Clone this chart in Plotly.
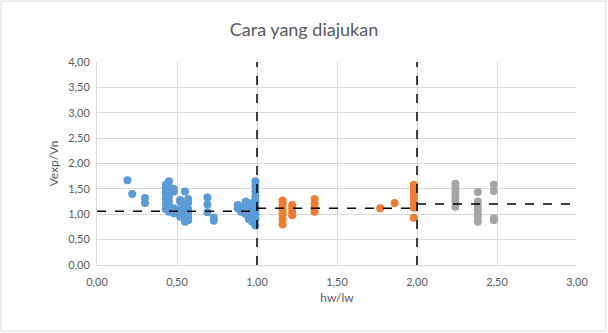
import plotly.graph_objects as go

# Group 1: hw/lw <= 1
x_low = [0.19, 0.22, 0.30, 0.30,
         0.43, 0.43, 0.43, 0.43, 0.43, 0.43, 0.43,
         0.45, 0.45, 0.45, 0.45, 0.45, 0.45, 0.45,
         0.48, 0.48, 0.48, 0.48,
         0.52, 0.52, 0.52, 0.52, 0.52,
         0.55, 0.55, 0.55, 0.55, 0.55, 0.55, 0.55,
         0.57, 0.57, 0.57, 0.57, 0.57, 0.57,
         0.69, 0.69, 0.69, 0.73, 0.73,
         0.88, 0.88, 0.90, 0.90,
         0.93, 0.93, 0.93, 0.93, 0.95, 0.95, 0.95,
         0.97, 0.97, 0.97, 0.97,
         0.99, 0.99, 0.99, 0.99, 0.99, 0.99, 0.99, 0.99, 0.99, 0.99]
y_low = [1.67, 1.40, 1.32, 1.22,
         1.10, 1.20, 1.30, 1.40, 1.45, 1.52, 1.58,
         1.05, 1.15, 1.25, 1.35, 1.48, 1.55, 1.65,
         1.02, 1.12, 1.45, 1.50,
         0.95, 1.05, 1.10, 1.28, 1.25,
         0.85, 0.90, 0.98, 1.05, 1.15, 1.20, 1.45,
         0.88, 0.95, 1.00, 1.10, 1.22, 1.30,
         1.33, 1.19, 1.04, 0.93, 0.87,
         1.12, 1.18, 1.05, 1.15,
         1.00, 1.10, 1.20, 1.25, 0.90, 1.05, 1.15,
         0.85, 0.95, 1.10, 1.22,
         0.78, 0.90, 1.00, 1.08, 1.15, 1.25, 1.35, 1.45, 1.55, 1.65]

# Group 2: 1 < hw/lw <= 2
x_mid = [1.16, 1.16, 1.16, 1.16, 1.16, 1.16, 1.16,
         1.22, 1.22, 1.22, 1.22,
         1.36, 1.36, 1.36, 1.36,
         1.77, 1.86,
         1.98, 1.98, 1.98, 1.98, 1.98, 1.98, 1.98, 1.98, 1.98]
y_mid = [0.80, 0.90, 1.00, 1.08, 1.15, 1.22, 1.27,
         0.98, 1.05, 1.12, 1.18,
         1.05, 1.12, 1.20, 1.30,
         1.12, 1.22,
         0.93, 1.13, 1.20, 1.30, 1.37, 1.44, 1.50, 1.55, 1.58]

# Group 3: hw/lw > 2
x_high = [2.24, 2.24, 2.24, 2.24, 2.24, 2.24, 2.24,
          2.38, 2.38, 2.38, 2.38, 2.38, 2.38, 2.38,
          2.48, 2.48, 2.48, 2.48]
y_high = [1.15, 1.22, 1.30, 1.38, 1.45, 1.52, 1.60,
          1.44, 1.25, 1.18, 1.10, 1.02, 0.95, 0.85,
          1.58, 1.46, 0.92, 0.88]

# Mean lines per range and range boundaries
mean_x = [[0.0, 1.0], [1.0, 2.0], [2.0, 3.0]]
mean_y = [1.06, 1.12, 1.20]
boundary_x = [1.0, 2.0]
y_range = [0.0, 4.0]

tick_vals = [0, 0.5, 1, 1.5, 2, 2.5, 3]
y_tick_vals = [0, 0.5, 1, 1.5, 2, 2.5, 3, 3.5, 4]

font_family = "Lato, Open Sans, sans-serif"
grey_text = "#595959"
grid = "#D9D9D9"

fig = go.Figure()

for xs, ys, col in [(x_low, y_low, "#5B9BD5"),
                    (x_mid, y_mid, "#ED7D31"),
                    (x_high, y_high, "#A5A5A5")]:
    fig.add_trace(go.Scatter(x=xs, y=ys, mode="markers",
                             marker=dict(size=8, color=col, line=dict(width=0)),
                             showlegend=False, hoverinfo="x+y"))

for seg, yv in zip(mean_x, mean_y):
    fig.add_trace(go.Scatter(x=seg, y=[yv, yv], mode="lines",
                             line=dict(color="black", width=1.5, dash="dash"),
                             showlegend=False, hoverinfo="skip"))

for bx in boundary_x:
    fig.add_trace(go.Scatter(x=[bx, bx], y=y_range, mode="lines",
                             line=dict(color="black", width=1.5, dash="dash"),
                             showlegend=False, hoverinfo="skip"))

fig.update_layout(
    width=608, height=333,
    margin=dict(l=97, r=31, t=62, b=68),
    paper_bgcolor="white", plot_bgcolor="white",
    separators=",.",
    font=dict(family=font_family, color=grey_text, size=11),
    title=dict(text="Cara yang diajukan", x=0.5, xanchor="center",
               y=1 - 30 / 333, yanchor="middle",
               font=dict(size=18, color=grey_text, family=font_family)),
    xaxis=dict(range=[0, 3], tickvals=tick_vals, tickformat=".2f",
               showgrid=True, gridcolor=grid, gridwidth=1,
               showline=True, linecolor=grid, linewidth=1,
               zeroline=False, ticks="", ticklabelstandoff=7,
               title=dict(text="hw/lw", font=dict(size=12, color=grey_text), standoff=6),
               tickfont=dict(size=11, color=grey_text)),
    yaxis=dict(range=[0, 4], tickvals=y_tick_vals, tickformat=".2f",
               showgrid=True, gridcolor=grid, gridwidth=1,
               showline=True, linecolor=grid, linewidth=1,
               zeroline=False, ticks="", ticklabelstandoff=4,
               title=dict(text="Vexp/Vn", font=dict(size=12, color=grey_text), standoff=6),
               tickfont=dict(size=11, color=grey_text)),
    shapes=[dict(type="rect", xref="paper", yref="paper",
                 x0=-0.2, x1=1.0604, y0=-0.325, y1=1.30,
                 line=dict(color=grid, width=1), layer="below")],
)

fig.write_html("out.html")
